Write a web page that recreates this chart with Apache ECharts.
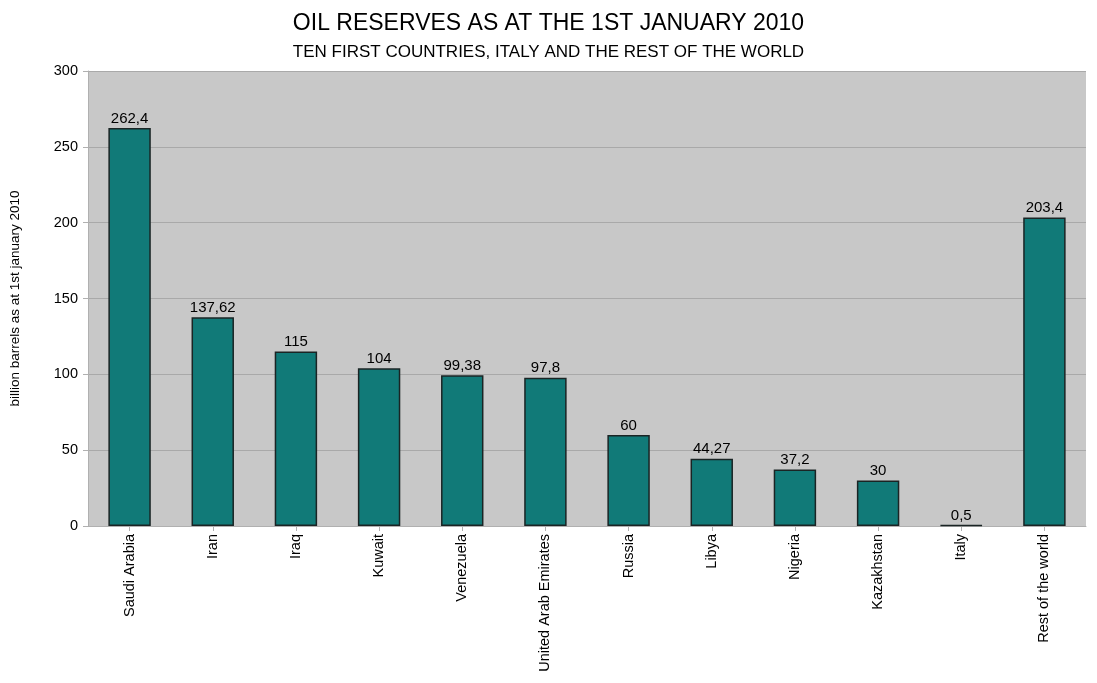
<!DOCTYPE html>
<html><head><meta charset="utf-8">
<script src="https://cdn.jsdelivr.net/npm/echarts@6/dist/echarts.min.js"></script>
<style>html,body{margin:0;padding:0;background:#fff;}#c{width:1097px;height:683px;}</style>
</head><body><div id="c"></div>
<script>
var categories = ["Saudi Arabia","Iran","Iraq","Kuwait","Venezuela","United Arab Emirates","Russia","Libya","Nigeria","Kazakhstan","Italy","Rest of the world"];
var reserves = [262.4,137.62,115,104,99.38,97.8,60,44.27,37.2,30,0.5,203.4];
var yTicks = [0,50,100,150,200,250,300];

var chart = echarts.init(document.getElementById('c'));
chart.setOption({
  animation:false,
  backgroundColor:'#ffffff',
  title:[
    {text:'OIL RESERVES AS AT THE 1ST JANUARY 2010',left:'center',top:7,
     textStyle:{fontFamily:'Liberation Sans',fontSize:23,fontWeight:'normal',color:'#000'}},
    {text:'TEN FIRST COUNTRIES, ITALY AND THE REST OF THE WORLD',left:'center',top:39,
     textStyle:{fontFamily:'Liberation Sans',fontSize:17,fontWeight:'normal',color:'#000'}}
  ],
  grid:{left:88,right:11,top:71,bottom:157,show:true,backgroundColor:'#c8c8c8',borderWidth:0},
  xAxis:{type:'category',data:categories,
    axisLine:{lineStyle:{color:'#b0b0b0'}},
    axisTick:{show:true,alignWithLabel:true,length:5,lineStyle:{color:'#b0b0b0'}},
    axisLabel:{rotate:90,interval:0,margin:8,fontFamily:'Liberation Sans',fontSize:14.5,color:'#000'}},
  yAxis:{type:'value',min:yTicks[0],max:yTicks[yTicks.length-1],interval:50,
    name:'billion barrels as at 1st january 2010',nameLocation:'middle',nameGap:66,nameRotate:90,
    nameTextStyle:{fontFamily:'Liberation Sans',fontSize:13.5,color:'#000'},
    axisLine:{show:true,lineStyle:{color:'#b0b0b0'}},
    axisTick:{show:true,length:5,lineStyle:{color:'#b0b0b0'}},
    axisLabel:{fontFamily:'Liberation Sans',fontSize:14.5,color:'#000',margin:10},
    splitLine:{lineStyle:{color:'#a9a9a9',width:1}}},
  series:[{type:'bar',data:reserves,barWidth:'51%',
    itemStyle:{color:'#117a78',borderColor:'#1a2424',borderWidth:1.5},
    label:{show:true,position:'top',distance:2,fontFamily:'Liberation Sans',fontSize:15,color:'#000',
      formatter:function(p){return String(p.value).replace('.',',');}}}]
});
</script></body></html>
